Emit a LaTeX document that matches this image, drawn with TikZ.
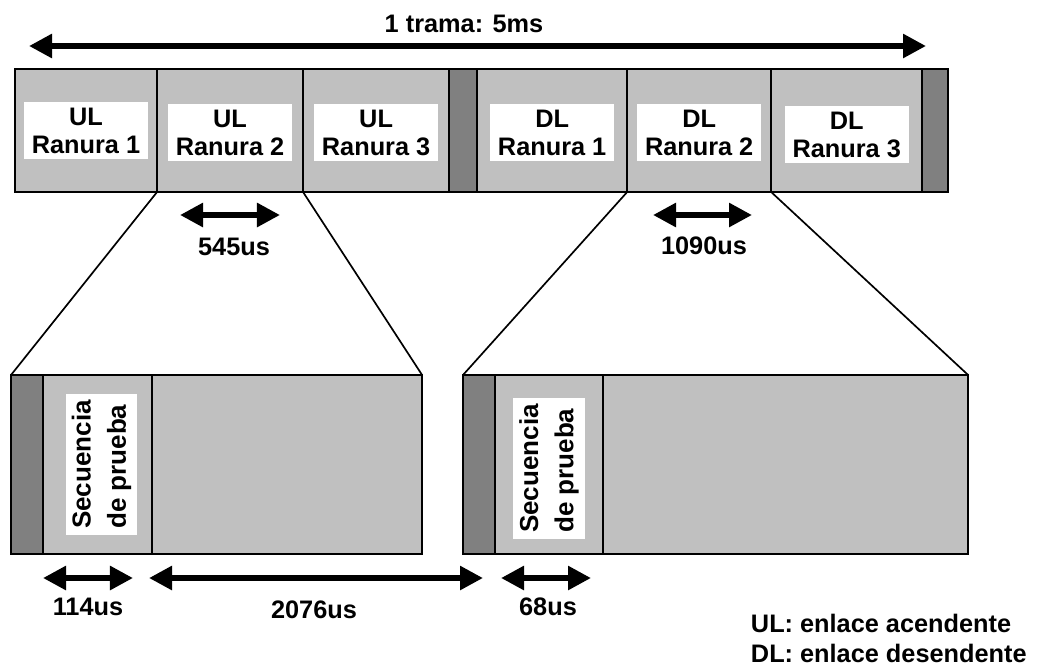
\documentclass[tikz,border=0pt]{standalone}
\usepackage{fontspec}
\setmainfont{Liberation Sans}
\usetikzlibrary{positioning, arrows.meta}

\definecolor{slotgray}{HTML}{C0C0C0}
\definecolor{guardgray}{HTML}{808080}

\tikzset{
  slot/.style={draw=black, line width=1.2pt, fill=slotgray, minimum height=3.075cm, inner sep=0pt, outer sep=0pt},
  guard/.style={slot, fill=guardgray},
  lowslot/.style={slot, minimum height=4.475cm},
  lowguard/.style={lowslot, fill=guardgray},
  tag/.style={fill=white, inner xsep=0.2cm, inner ysep=0.15cm, align=center, font=\fontsize{18}{20}\selectfont\bfseries},
  vtag/.style={tag, rotate=90, align=left, inner xsep=0.15cm, font=\fontsize{18.5}{25}\selectfont\bfseries},
  dimline/.style={line width=4pt, {Triangle[length=0.575cm,width=0.575cm]}-{Triangle[length=0.575cm,width=0.575cm]}},
  dimlabel/.style={font=\fontsize{18}{20}\selectfont\bfseries},
}

\begin{document}
\begin{tikzpicture}[x=0.025cm, y=-0.025cm]
    \useasboundingbox (0,0) rectangle (1037,667);

    % One frame: three uplink slots, guard, three downlink slots, guard
    \node[slot, minimum width=3.55cm, anchor=north west] (ul1) at (15,69) {};
    \node[slot, minimum width=3.65cm, right=0pt of ul1] (ul2) {};
    \node[slot, minimum width=3.65cm, right=0pt of ul2] (ul3) {};
    \node[guard, minimum width=0.7cm, right=0pt of ul3] (gap1) {};
    \node[slot, minimum width=3.75cm, right=0pt of gap1] (dl1) {};
    \node[slot, minimum width=3.6cm, right=0pt of dl1] (dl2) {};
    \node[slot, minimum width=3.775cm, right=0pt of dl2] (dl3) {};
    \node[guard, minimum width=0.65cm, right=0pt of dl3] (gap2) {};

    % Slot names
    \node[tag] (ul1txt) at (ul1) {UL\\Ranura 1};
    \node[tag] (ul2txt) at ([yshift=-0.05cm]ul2) {UL\\Ranura 2};
    \node[tag] (ul3txt) at ([yshift=-0.05cm]ul3) {UL\\Ranura 3};
    \node[tag] (dl1txt) at ([yshift=-0.05cm]dl1) {DL\\Ranura 1};
    \node[tag] (dl2txt) at ([yshift=-0.05cm]dl2) {DL\\Ranura 2};
    \node[tag] (dl3txt) at ([yshift=-0.1cm]dl3) {DL\\Ranura 3};

    % Expanded uplink slot
    \node[lowguard, draw=none, minimum width=0.8cm, anchor=north west] (lgL) at (11,375) {};
    \node[lowslot, minimum width=2.725cm, right=0pt of lgL] (seqL) {};
    \node[lowslot, minimum width=6.75cm, right=0pt of seqL] (dataL) {};
    \draw[line width=1.2pt] (lgL.north west) rectangle (dataL.south east);
    \node[vtag] (seqLtxt) at ([xshift=0.1cm]seqL) {Secuencia\\de prueba};

    % Expanded downlink slot
    \node[lowguard, minimum width=0.8cm, anchor=north west] (lgR) at (463,375) {};
    \node[lowslot, minimum width=2.7cm, right=0pt of lgR] (seqR) {};
    \node[lowslot, minimum width=9.125cm, right=0pt of seqR] (dataR) {};
    \node[vtag] (seqRtxt) at ([yshift=-0.1cm]seqR) {Secuencia\\de prueba};

    % Zoom lines
    \draw[line width=1.2pt] (ul2.south west) -- (lgL.north west);
    \draw[line width=1.2pt] (ul2.south east) -- (dataL.north east);
    \draw[line width=1.2pt] (dl2.south west) -- (lgR.north west);
    \draw[line width=1.2pt] (dl2.south east) -- (dataR.north east);

    % Durations
    \coordinate (frameL) at (29,46);
    \coordinate (frameR) at (926,46);
    \draw[dimline] (frameL) -- (frameR);
    \node[dimlabel] (frametxt) at (464,24) {1 trama: 5ms};

    \coordinate (ulL) at (180,215);
    \coordinate (ulR) at (280,215);
    \draw[dimline] (ulL) -- (ulR);
    \node[dimlabel] (ultxt) at (234,247) {545us};

    \coordinate (dlL) at (653,215);
    \coordinate (dlR) at (752,215);
    \draw[dimline] (dlL) -- (dlR);
    \node[dimlabel] (dltxt) at (704,246) {1090us};

    \coordinate (seqLa) at (43,578);
    \coordinate (seqLb) at (133,578);
    \draw[dimline] (seqLa) -- (seqLb);
    \node[dimlabel] (seqLdur) at (88,607) {114us};

    \coordinate (dataLa) at (149,578);
    \coordinate (dataLb) at (483,578);
    \draw[dimline] (dataLa) -- (dataLb);
    \node[dimlabel] (dataLdur) at (314,610) {2076us};

    \coordinate (seqRa) at (501,578);
    \coordinate (seqRb) at (591,578);
    \draw[dimline] (seqRa) -- (seqRb);
    \node[dimlabel] (seqRdur) at (548,607) {68us};

    % Legend
    \node[dimlabel, align=left, anchor=west, font=\fontsize{18}{21.3}\selectfont\bfseries] (legend) at (746,638)
        {UL: enlace acendente\\DL: enlace desendente};
\end{tikzpicture}
\end{document}
